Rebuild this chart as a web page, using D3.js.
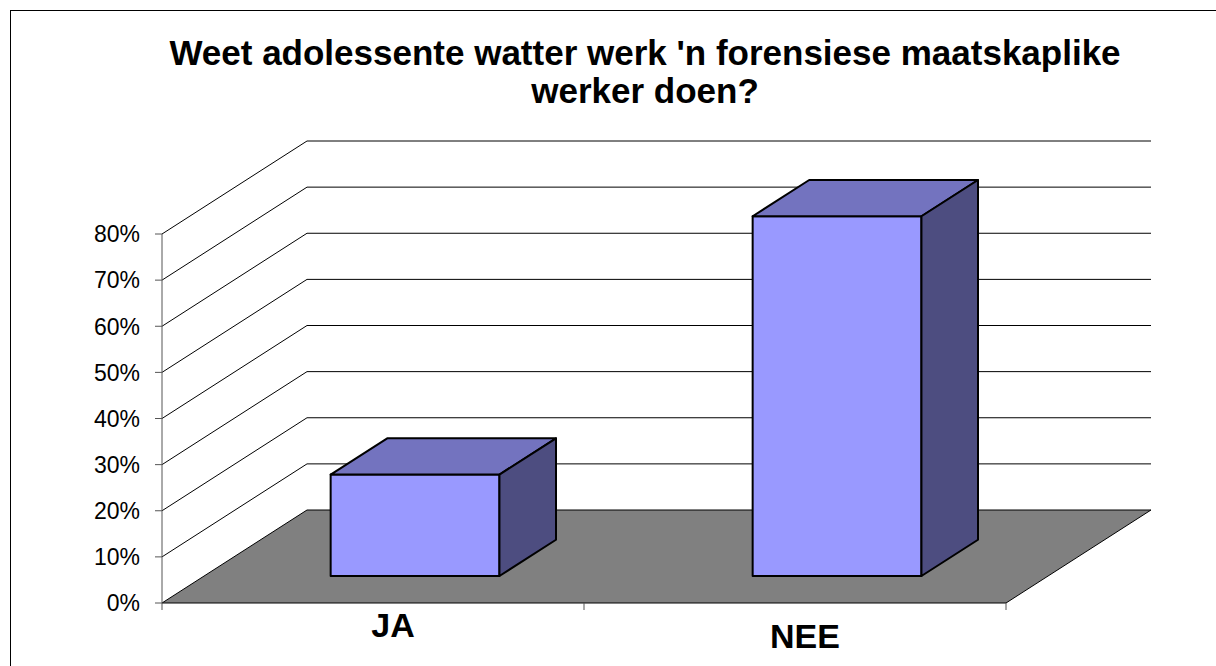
<!DOCTYPE html>
<html>
<head>
<meta charset="utf-8">
<script src="https://cdn.jsdelivr.net/npm/d3@7"></script>
<style>
    body { margin: 0; background: #fff; }
    #graphique1 { width: 1216px; height: 666px; }
</style>
</head>
<body>
<div id="graphique1"></div>
<script>
// donnees du graphique
const titreLignes = ["Weet adolessente watter werk 'n forensiese maatskaplike", "werker doen?"];
const categories = ["JA", "NEE"];
const valeurs = [0.22, 0.78];
const ticks = [0, 0.1, 0.2, 0.3, 0.4, 0.5, 0.6, 0.7, 0.8];

function AffichageGraph3D() {
    const width = 1216, height = 666;
    const x0 = 162, x1 = 1006;     // bord avant du sol
    const y0 = 603, yTop = 234;    // 0% et 80% sur l'axe
    const profX = 145, profY = 93; // profondeur du mur du fond

    const svg = d3.select("#graphique1").append("svg")
        .attr("width", width)
        .attr("height", height);

    // cadre
    svg.append("rect")
        .attr("x", 10.5).attr("y", 10.5)
        .attr("width", 1400).attr("height", 1000)
        .style("fill", "white")
        .style("stroke", "#000")
        .style("stroke-width", 1);

    const xScale = d3.scaleBand()
        .domain(categories)
        .range([x0, x1])
        .paddingInner(0)
        .paddingOuter(0);

    const yScale = d3.scaleLinear()
        .domain([0, 0.8])
        .range([y0, yTop]);

    // projection oblique : (x, valeur, profondeur 0..1) -> ecran
    const proj = (x, v, d) => [x + d * profX, yScale(v) - d * profY];

    // sol gris
    const sol = [proj(x0, 0, 0), proj(x0, 0, 1), proj(x1, 0, 1), proj(x1, 0, 0)];
    svg.append("polygon")
        .attr("points", sol.map(p => p.join(",")).join(" "))
        .style("fill", "#808080")
        .style("stroke", "#000")
        .style("stroke-width", 1);

    // lignes de grille (mur de gauche + mur du fond)
    const grille = ticks.filter(t => t > 0);
    svg.selectAll(".grid-side")
        .data(grille)
        .enter()
        .append("polyline")
        .attr("class", "grid-side")
        .attr("points", d => [proj(x0, d, 0), proj(x0, d, 1), proj(x1, d, 1)].map(p => p.join(",")).join(" "))
        .style("fill", "none")
        .style("stroke", "#000")
        .style("stroke-width", 1);

    // axe vertical
    svg.append("line")
        .attr("x1", x0).attr("y1", yScale(0.8))
        .attr("x2", x0).attr("y2", yScale(0))
        .style("stroke", "#555")
        .style("stroke-width", 1);

    svg.selectAll(".tick-y")
        .data(ticks)
        .enter()
        .append("line")
        .attr("class", "tick-y")
        .attr("x1", x0 - 7).attr("x2", x0)
        .attr("y1", d => yScale(d)).attr("y2", d => yScale(d))
        .style("stroke", "#555");

    svg.selectAll(".tick-label")
        .data(ticks)
        .enter()
        .append("text")
        .attr("class", "tick-label")
        .attr("x", x0 - 22)
        .attr("y", d => yScale(d))
        .attr("dy", "0.36em")
        .attr("text-anchor", "end")
        .style("font-family", "Arial, 'Liberation Sans', sans-serif")
        .style("font-size", "23px")
        .text(d => Math.round(d * 100) + "%");

    // traits en bas (separation des categories)
    const bords = [x0].concat(categories.map(c => xScale(c) + xScale.bandwidth()));
    svg.selectAll(".tick-x")
        .data(bords)
        .enter()
        .append("line")
        .attr("class", "tick-x")
        .attr("x1", d => d).attr("x2", d => d)
        .attr("y1", y0).attr("y2", y0 + 7)
        .style("stroke", "#555");

    // barres 3D
    const largeur = xScale.bandwidth() * 0.4;
    const dAvant = 0.29, dArriere = 0.68;
    const barres = svg.selectAll(".bar")
        .data(categories.map((c, i) => ({ cat: c, val: valeurs[i] })))
        .enter()
        .append("g")
        .attr("class", "bar");

    const pts = a => a.map(p => p.join(",")).join(" ");
    const gauche = d => xScale(d.cat) + (xScale.bandwidth() - largeur) / 2;

    // face avant
    barres.append("polygon")
        .attr("points", d => pts([
            proj(gauche(d), 0, dAvant), proj(gauche(d), d.val, dAvant),
            proj(gauche(d) + largeur, d.val, dAvant), proj(gauche(d) + largeur, 0, dAvant)]))
        .style("fill", "#9999FF");

    // dessus
    barres.append("polygon")
        .attr("points", d => pts([
            proj(gauche(d), d.val, dAvant), proj(gauche(d), d.val, dArriere),
            proj(gauche(d) + largeur, d.val, dArriere), proj(gauche(d) + largeur, d.val, dAvant)]))
        .style("fill", "#7373BF");

    // cote droit
    barres.append("polygon")
        .attr("points", d => pts([
            proj(gauche(d) + largeur, 0, dAvant), proj(gauche(d) + largeur, d.val, dAvant),
            proj(gauche(d) + largeur, d.val, dArriere), proj(gauche(d) + largeur, 0, dArriere)]))
        .style("fill", "#4D4D80");

    barres.selectAll("polygon")
        .style("stroke", "#000")
        .style("stroke-width", 2)
        .style("stroke-linejoin", "round");

    // noms des categories sous le sol
    svg.selectAll(".cat-text")
        .data(categories)
        .enter()
        .append("text")
        .attr("class", "cat-text")
        .attr("x", (d, i) => xScale(d) + xScale.bandwidth() / 2 + 20 - i * 10)
        .attr("y", (d, i) => y0 + 34 + i * 11)
        .attr("text-anchor", "middle")
        .style("font-family", "Arial, 'Liberation Sans', sans-serif")
        .style("font-weight", "bold")
        .style("font-size", "34px")
        .text(d => d);

    // titre
    svg.selectAll(".graph-title")
        .data(titreLignes)
        .enter()
        .append("text")
        .attr("class", "graph-title")
        .attr("x", 645)
        .attr("y", (d, i) => 65 + i * 38)
        .attr("text-anchor", "middle")
        .style("font-family", "Arial, 'Liberation Sans', sans-serif")
        .style("font-weight", "bold")
        .style("font-size", "35px")
        .text(d => d);
}

AffichageGraph3D();
</script>
</body>
</html>
